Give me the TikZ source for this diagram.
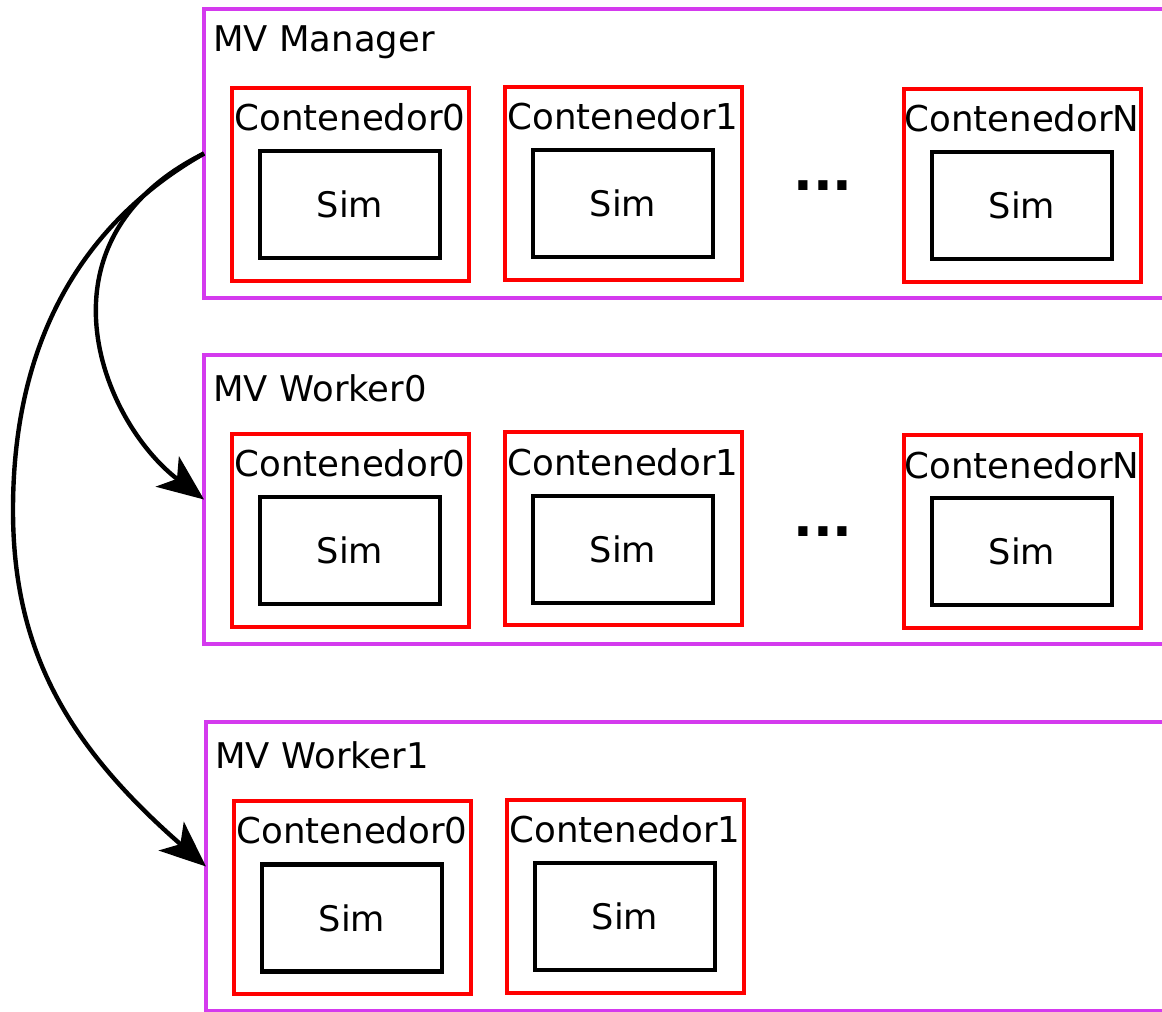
\documentclass[tikz,border=0pt]{standalone}
\usepackage{fontspec}
\setmainfont{DejaVu Sans}
\usetikzlibrary{arrows.meta}
\definecolor{mvpurple}{RGB}{212,58,238}
\tikzset{
  mvbox/.style={draw=mvpurple, line width=2.1pt, rectangle, anchor=north west, minimum width=520pt, minimum height=144.5pt, inner sep=0pt, outer sep=0pt},
  redbox/.style={draw=red, line width=2.2pt, rectangle, anchor=north west, minimum width=118.5pt, minimum height=96.5pt, inner sep=0pt, outer sep=0pt},
  simbox/.style={draw=black, line width=2.3pt, rectangle, minimum width=90pt, minimum height=53.5pt, inner sep=0pt, outer sep=0pt, font=\fontsize{17.6}{20}\selectfont},
  lbl/.style={inner sep=0pt, font=\fontsize{17.8}{20}\selectfont},
  title/.style={inner sep=0pt, anchor=west, font=\fontsize{17.7}{20}\selectfont},
  dots/.style={inner sep=0pt, font=\fontsize{26}{30}\selectfont\bfseries},
  conn/.style={line width=2.2pt, -{Stealth[length=23pt, width=19pt, inset=6pt]}}
}
\begin{document}
\begin{tikzpicture}[x=0.5pt, y=-0.5pt]
\clip (0,0) rectangle (1162,1012);
% MV boxes
\node[mvbox] (mgr) at (204,9) {};
\node[mvbox] (w0) at (204,355) {};
\node[mvbox] (w1) at (206,722) {};
\node[title] (tmgr) at (213,42) {MV Manager};
\node[title] (tw0) at (213,388) {MV Worker0};
\node[title] (tw1) at (215,755) {MV Worker1};
% Manager containers
\node[redbox] (m0) at (232,88) {};
\node[lbl] (m0l) at (350,117) {Contenedor0};
\node[simbox] (m0s) at (350,204.5) {Sim};
\node[redbox] (m1) at (505,87) {};
\node[lbl] (m1l) at (623,116) {Contenedor1};
\node[simbox] (m1s) at (623,203.5) {Sim};
\node[redbox] (mn) at (904,89) {};
\node[lbl] (mnl) at (1022,118) {ContenedorN};
\node[simbox] (mns) at (1022,205.5) {Sim};
\node[dots] (md) at (823,186) {...};
% Worker0 containers
\node[redbox] (a0) at (232,434) {};
\node[lbl] (a0l) at (350,463) {Contenedor0};
\node[simbox] (a0s) at (350,550.5) {Sim};
\node[redbox] (a1) at (505,432) {};
\node[lbl] (a1l) at (623,462) {Contenedor1};
\node[simbox] (a1s) at (623,549.5) {Sim};
\node[redbox] (an) at (904,435) {};
\node[lbl] (anl) at (1022,465) {ContenedorN};
\node[simbox] (ans) at (1022,551.5) {Sim};
\node[dots] (ad) at (823,532) {...};
% Worker1 containers
\node[redbox] (b0) at (234,801) {};
\node[lbl] (b0l) at (352,830) {Contenedor0};
\node[simbox] (b0s) at (352,918) {Sim};
\node[redbox] (b1) at (507,800) {};
\node[lbl] (b1l) at (625,829) {Contenedor1};
\node[simbox] (b1s) at (625,916.5) {Sim};
% connectors
\draw[conn] (mgr.west) .. controls (30,240) and (100,420) .. (w0.west);
\draw[conn] (mgr.west) .. controls (91,218) and (13,330) .. (13,510)
  .. controls (13,650) and (67,745) .. (w1.west);
\end{tikzpicture}
\end{document}
